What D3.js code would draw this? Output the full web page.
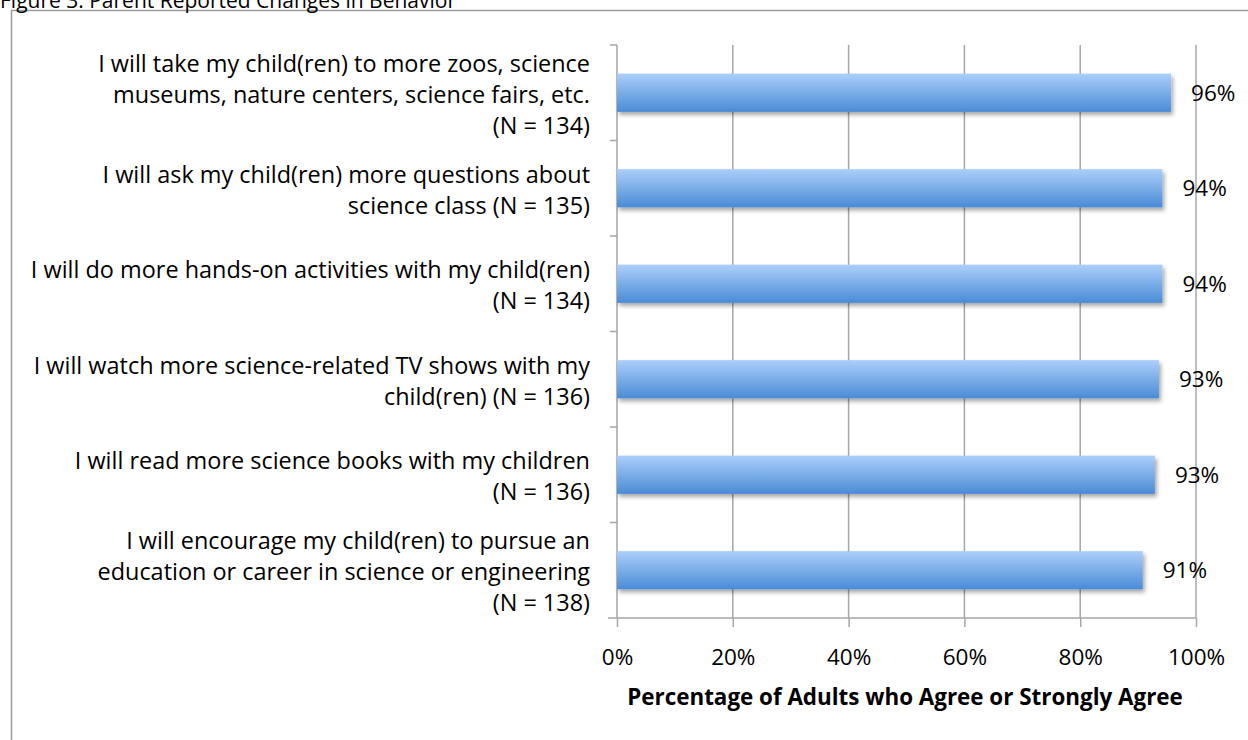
<!DOCTYPE html>
<html>
<head>
<meta charset="utf-8">
<script src="https://cdn.jsdelivr.net/npm/d3@7/dist/d3.min.js"></script>
<style>
  html, body { margin: 0; padding: 0; background: #fff; }
  svg { display: block; }
  text { font-family: "Open Sans", Lato, sans-serif; fill: #000; }
</style>
</head>
<body>
<svg id="chart" width="1248" height="740"></svg>
<script>
const title = "Figure 3: Parent Reported Changes in Behavior";
const categories = [
  ["I will take my child(ren) to more zoos, science", "museums, nature centers, science fairs, etc.", "(N = 134)"],
  ["I will ask my child(ren) more questions about", "science class (N = 135)"],
  ["I will do more hands-on activities with my child(ren)", "(N = 134)"],
  ["I will watch more science-related TV shows with my", "child(ren) (N = 136)"],
  ["I will read more science books with my children", "(N = 136)"],
  ["I will encourage my child(ren) to pursue an", "education or career in science or engineering", "(N = 138)"]
];
const values = [95.7, 94.2, 94.2, 93.6, 92.9, 90.8];
const valueLabels = ["96%", "94%", "94%", "93%", "93%", "91%"];
const xTicks = [0, 20, 40, 60, 80, 100];
const xTitle = "Percentage of Adults who Agree or Strongly Agree";

const svg = d3.select("#chart");
const W = 1248, H = 740;
const m = {left: 617, right: 1196, top: 45, bottom: 618};

const defs = svg.append("defs");
const grad = defs.append("linearGradient").attr("id", "barGrad")
  .attr("x1", 0).attr("y1", 0).attr("x2", 0).attr("y2", 1);
grad.append("stop").attr("offset", "0%").attr("stop-color", "#abcffb");
grad.append("stop").attr("offset", "100%").attr("stop-color", "#4a8bd6");
const f = defs.append("filter").attr("id", "shadow")
  .attr("x", "-5%").attr("y", "-20%").attr("width", "110%").attr("height", "160%");
f.append("feDropShadow").attr("dx", 2).attr("dy", 3).attr("stdDeviation", 2)
  .attr("flood-color", "#000").attr("flood-opacity", 0.35);

// frame
svg.append("rect").attr("x", 11.5).attr("y", 10.5).attr("width", W).attr("height", H)
  .attr("fill", "none").attr("stroke", "#9a9a9a").attr("stroke-width", 1.5);

// title (cut off at top in the reference)
svg.append("text").attr("x", 0).attr("y", 8).attr("font-size", 21).text(title);

const x = d3.scaleLinear().domain([0, 100]).range([m.left, m.right]);
const y = d3.scaleBand().domain(d3.range(categories.length)).range([m.top, m.bottom]).paddingInner(0.6).paddingOuter(0.3);
const yb = d3.scaleBand().domain(d3.range(categories.length)).range([m.top, m.bottom]);

// vertical gridlines
svg.append("g").selectAll("line").data(xTicks.slice(1)).join("line")
  .attr("x1", d => x(d)).attr("x2", d => x(d)).attr("y1", m.top).attr("y2", m.bottom)
  .attr("stroke", "#a6a6a6").attr("stroke-width", 1.5);

// bottom axis
const xAxis = d3.axisBottom(x).tickValues(xTicks).tickSize(9).tickFormat(d => d + "%");
const gx = svg.append("g").attr("transform", `translate(0,${m.bottom})`).call(xAxis);
gx.attr("font-size", null).attr("font-family", null);
gx.select(".domain").remove();
gx.append("line").attr("x1", 608).attr("x2", m.right).attr("stroke", "#a6a6a6").attr("stroke-width", 1.5);
gx.selectAll(".tick line").attr("stroke", "#a6a6a6").attr("stroke-width", 1.5);
gx.selectAll(".tick text").attr("dy", "0.35em").attr("y", 39)
  .style("font-size", "22.5px")
  .style("font-family", "'Open Sans', Lato, sans-serif").attr("fill", "#000");

// left axis
const boundaries = d3.range(categories.length + 1).map(i => m.top + i * yb.step());
svg.append("line").attr("x1", m.left).attr("x2", m.left).attr("y1", m.top).attr("y2", m.bottom)
  .attr("stroke", "#a6a6a6").attr("stroke-width", 1.5);
svg.append("g").selectAll("line").data(boundaries.slice(0, -1)).join("line")
  .attr("x1", 610).attr("x2", m.left).attr("y1", d => d).attr("y2", d => d)
  .attr("stroke", "#a6a6a6").attr("stroke-width", 1.5);

// bars
svg.append("g").selectAll("rect").data(values).join("rect")
  .attr("x", x(0)).attr("y", (d, i) => y(i))
  .attr("width", d => x(d) - x(0)).attr("height", y.bandwidth())
  .attr("fill", "url(#barGrad)").attr("filter", "url(#shadow)");

// value labels
svg.append("g").selectAll("text").data(values).join("text")
  .attr("x", d => x(d) + 20).attr("y", (d, i) => y(i) + y.bandwidth() / 2)
  .attr("dy", "0.35em").style("font-size", "22.5px")
  .text((d, i) => valueLabels[i]);

// category labels
const lh = 31;
const lg = svg.append("g");
const tspans = [];
categories.forEach((lines, i) => {
  const cy = yb(i) + yb.bandwidth() / 2 + 2;
  const t = lg.append("text").attr("text-anchor", "end").attr("font-size", 20);
  lines.forEach((ln, k) => {
    tspans.push(t.append("tspan").attr("x", 590)
      .attr("y", cy + (k - (lines.length - 1) / 2) * lh)
      .attr("dy", "0.35em").text(ln));
  });
});
// fit font size so the first line of the first label is ~492px wide, as in the reference
const w0 = tspans[0].node().getComputedTextLength();
lg.selectAll("text").attr("font-size", 20 * 492 / w0);

// x title
svg.append("text").attr("x", 905).attr("y", 697)
  .attr("text-anchor", "middle").attr("dy", "0.35em")
  .style("font-size", "22.4px").attr("font-weight", "bold").text(xTitle);
</script>
</body>
</html>
